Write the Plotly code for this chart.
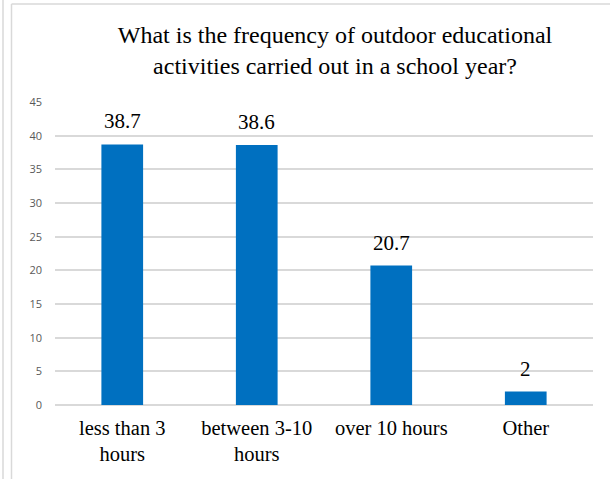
import plotly.graph_objects as go

categories = ["less than 3<br>hours", "between 3-10<br>hours", "over 10 hours", "Other"]
values = [38.7, 38.6, 20.7, 2]
value_labels = ["38.7", "38.6", "20.7", "2"]
y_ticks = [0, 5, 10, 15, 20, 25, 30, 35, 40, 45]

W, H = 610, 479
L, R, T, B = 55, 17, 102, 74
pw = W - L - R
ph = H - T - B

def px_x(x):
    return (x - L) / pw

def px_y(y):
    return (H - B - y) / ph

SERIF = "Liberation Serif, Times New Roman, serif"

fig = go.Figure(go.Bar(
    x=categories, y=values,
    marker=dict(color="#0070C0", line=dict(width=0)), width=0.31,
))

annotations = [
    dict(x=c, y=v, text=t, xref="x", yref="y", showarrow=False,
         yanchor="bottom", yshift=9,
         font=dict(family=SERIF, size=21, color="#000000"))
    for c, v, t in zip(categories, values, value_labels)
]

border = "#d9d9d9"
fig.update_layout(
    width=W, height=H,
    margin=dict(l=L, r=R, t=T, b=B, autoexpand=False),
    paper_bgcolor="white", plot_bgcolor="white",
    showlegend=False,
    title=dict(
        text="What is the frequency of outdoor educational<br>activities carried out in a school year?",
        x=335 / W, xref="container", xanchor="center",
        y=1 - 43 / H, yref="container", yanchor="middle",
        font=dict(family=SERIF, size=24, color="#000000"),
    ),
    xaxis=dict(
        showline=False, showgrid=False, ticks="", automargin=False,
        tickfont=dict(family=SERIF, size=20.5, color="#000000"),
        ticklabelstandoff=8,
    ),
    yaxis=dict(
        range=[0, 45], tickvals=y_ticks, showgrid=True, gridcolor=border, gridwidth=1.5,
        zeroline=True, zerolinecolor=border, zerolinewidth=1.5, showline=False, automargin=False,
        tickfont=dict(family="Open Sans, DejaVu Sans, sans-serif", size=11, color="#595959"),
        ticklabelstandoff=12,
    ),
    annotations=annotations,
    shapes=[
        dict(type="line", xref="paper", yref="paper", x0=px_x(3), x1=px_x(3), y0=px_y(-5), y1=px_y(H + 5),
             line=dict(color=border, width=1.5)),
        dict(type="line", xref="paper", yref="paper", x0=px_x(11.5), x1=px_x(11.5), y0=px_y(4), y1=px_y(H + 5),
             line=dict(color=border, width=1.5)),
        dict(type="line", xref="paper", yref="paper", x0=px_x(11.5), x1=px_x(W + 5), y0=px_y(4), y1=px_y(4),
             line=dict(color=border, width=1.5)),
    ],
)

fig.write_html("out.html", config={"displayModeBar": False},
               post_script="document.body.style.margin='0';")
